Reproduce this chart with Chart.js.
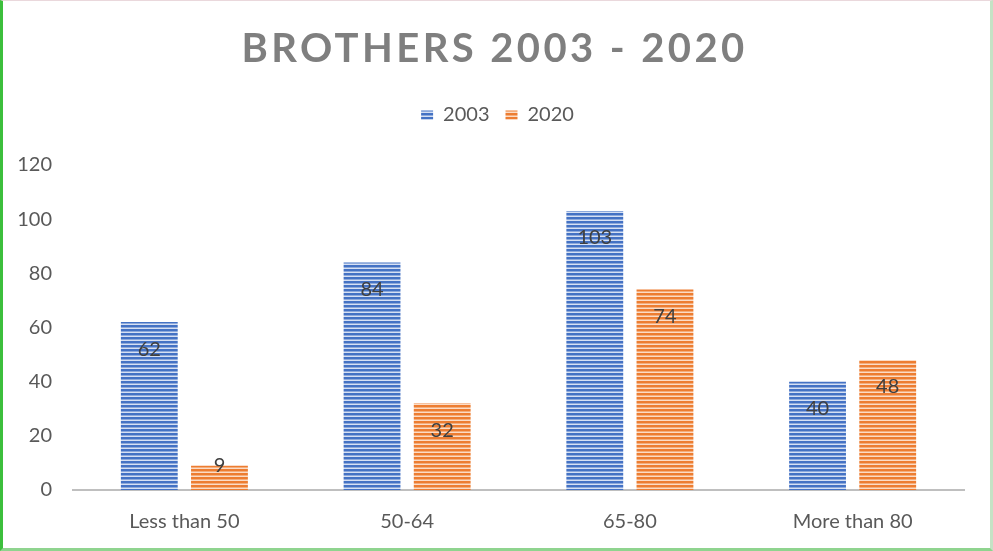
<!DOCTYPE html>
<html>
<head>
<meta charset="utf-8">
<script src="https://cdn.jsdelivr.net/npm/chart.js@4"></script>
<style>
  html, body { margin: 0; padding: 0; background: #fff; }
  #wrap { position: relative; width: 993px; height: 551px; box-sizing: border-box;
          border-left: 3px solid #3cbf3c; border-right: 3px solid #c5e2c5; border-bottom: 3px solid #8fd48f; border-top: 1px solid #ead8dc; }
  canvas { display: block; }
</style>
</head>
<body>
<div id="wrap"><canvas id="c" width="987" height="547"></canvas></div>
<script>
const titleText = 'BROTHERS 2003 - 2020';
const categories = ['Less than 50', '50-64', '65-80', 'More than 80'];
const series2003 = [62, 84, 103, 40];
const series2020 = [9, 32, 74, 48];
const yTicks = [0, 20, 40, 60, 80, 100, 120];

function stripe(color, light) {
  const p = document.createElement('canvas');
  p.width = 4; p.height = 4;
  const g = p.getContext('2d');
  g.fillStyle = light; g.fillRect(0, 0, 4, 4);
  g.fillStyle = color; g.fillRect(0, 0, 4, 2);
  g.globalAlpha = 0.5; g.fillRect(0, 2, 4, 1);
  return g.createPattern(p, 'repeat');
}
const ctx = document.getElementById('c').getContext('2d');
const bluePat = stripe('#4472c4', '#d6e0f3');
const orangePat = stripe('#ed7d31', '#fbdcc6');

const titlePlugin = {
  id: 'spacedTitle',
  afterDraw(chart) {
    const c = chart.ctx;
    c.save();
    c.font = 'bold 40px Lato';
    c.fillStyle = '#7f7f7f';
    c.textAlign = 'center';
    c.textBaseline = 'middle';
    c.letterSpacing = '3.4px';
    c.fillText(titleText, chart.width / 2 - 2, 48);
    c.restore();
  }
};

const legendTweak = {
  id: 'legendTweak',
  beforeInit(chart) {
    const lg = chart.legend;
    if (!lg) return;
    const orig = lg.fit;
    lg.fit = function () { orig.call(this); this.height += 30; };
  },
  afterLayout(chart) {
    const lg = chart.legend;
    if (!lg) return;
    lg.left += 14; lg.right += 14;
  }
};

const labelPlugin = {
  id: 'barLabels',
  afterDatasetsDraw(chart) {
    const c = chart.ctx;
    c.save();
    c.font = '20px Lato';
    c.fillStyle = '#404040';
    c.textAlign = 'center';
    c.textBaseline = 'middle';
    chart.data.datasets.forEach((ds, di) => {
      chart.getDatasetMeta(di).data.forEach((bar, i) => {
        let y = bar.y + 27;
        if (y > bar.base - 24) y = bar.base - 24;
        c.fillText(String(ds.data[i]), bar.x, y);
      });
    });
    c.restore();
  }
};

new Chart(ctx, {
  type: 'bar',
  data: {
    labels: categories,
    datasets: [
      { label: '2003', data: series2003, backgroundColor: bluePat, borderWidth: 0 },
      { label: '2020', data: series2020, backgroundColor: orangePat, borderWidth: 0 }
    ]
  },
  options: {
    responsive: false,
    animation: false,
    devicePixelRatio: 1,
    layout: { padding: { top: 88, left: 0, right: 26, bottom: 1 } },
    datasets: { bar: { categoryPercentage: 0.63, barPercentage: 0.81 } },
    plugins: {
      title: { display: false },
      legend: {
        display: true,
        position: 'top',
        labels: {
          font: { family: 'Lato', size: 20 },
          color: '#595959',
          boxWidth: 12, boxHeight: 9,
          padding: 16
        }
      },
      tooltip: { enabled: false }
    },
    scales: {
      x: {
        afterFit(scale) { scale.height = 57; },
        grid: { display: false, drawTicks: false },
        border: { display: true, color: '#bfbfbf', width: 2 },
        ticks: { font: { family: 'Lato', size: 20 }, color: '#595959', padding: 20 }
      },
      y: {
        min: 0, max: 120,
        afterBuildTicks(axis) { axis.ticks = yTicks.map(v => ({ value: v })); },
        afterFit(scale) { scale.width = 70; },
        grid: { display: false, drawTicks: false },
        border: { display: false },
        ticks: { font: { family: 'Lato', size: 20 }, color: '#595959', padding: 21 }
      }
    }
  },
  plugins: [titlePlugin, labelPlugin, legendTweak]
});
</script>
</body>
</html>
